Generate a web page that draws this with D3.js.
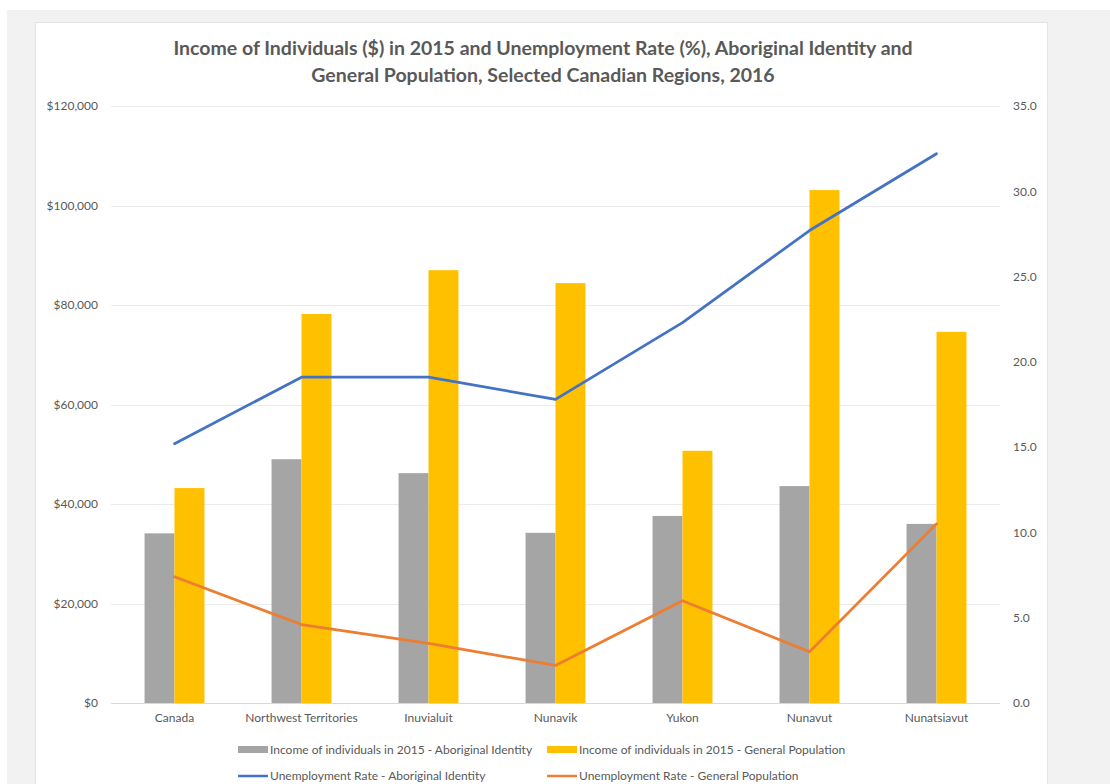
<!DOCTYPE html>
<html>
<head>
<meta charset="utf-8">
<script src="https://cdn.jsdelivr.net/npm/d3@7"></script>
<style>
  html, body { margin: 0; padding: 0; background: #fff; }
  svg { display: block; font-family: Lato, "Open Sans", sans-serif; }
</style>
</head>
<body>
<svg id="chart" width="1110" height="784"></svg>
<script>
// Data
const regions = ['Canada', 'Northwest Territories', 'Inuvialuit', 'Nunavik', 'Yukon', 'Nunavut', 'Nunatsiavut'];
const incomeAboriginal = [34100, 49000, 46200, 34200, 37600, 43600, 36000];
const incomeGeneral = [43200, 78200, 87000, 84400, 50700, 103100, 74600];
const unempAboriginal = [15.2, 19.1, 19.1, 17.8, 22.3, 27.7, 32.2];
const unempGeneral = [7.4, 4.6, 3.5, 2.2, 6.0, 3.0, 10.5];
const incomeTicks = [0, 20000, 40000, 60000, 80000, 100000, 120000];
const rateTicks = [0, 5, 10, 15, 20, 25, 30, 35];

const titleLines = [
  'Income of Individuals ($) in 2015 and Unemployment Rate (%), Aboriginal Identity and',
  'General Population, Selected Canadian Regions, 2016'
];

const series = [
  { key: 'ab', label: 'Income of individuals in 2015 - Aboriginal Identity', color: '#a5a5a5', type: 'bar', values: incomeAboriginal },
  { key: 'gen', label: 'Income of individuals in 2015 - General Population', color: '#ffc000', type: 'bar', values: incomeGeneral },
  { key: 'uab', label: 'Unemployment Rate - Aboriginal Identity', color: '#4472c4', type: 'line', values: unempAboriginal },
  { key: 'ugen', label: 'Unemployment Rate - General Population', color: '#ed7d31', type: 'line', values: unempGeneral }
];

const svg = d3.select('#chart');
const textColor = '#595959';
const labelSize = 12;

// page background and card
svg.append('rect').attr('x', 7).attr('y', 10).attr('width', 1103).attr('height', 774).attr('fill', '#f2f2f2');
svg.append('rect').attr('x', 35.5).attr('y', 22.5).attr('width', 1012).attr('height', 800)
  .attr('fill', '#fff').attr('stroke', '#e4e4e4');

const plot = { left: 111, right: 1000, top: 106, bottom: 703 };

const x = d3.scaleBand().domain(regions).range([plot.left, plot.right]).paddingInner(0).paddingOuter(0);
const xSub = d3.scaleBand().domain(['ab', 'gen']).range([0, x.bandwidth()]).paddingInner(0).paddingOuter(1.12);
const yLeft = d3.scaleLinear().domain([0, 120000]).range([plot.bottom, plot.top]);
const yRight = d3.scaleLinear().domain([0, 35]).range([plot.bottom, plot.top]);

// Title
svg.append('g').selectAll('text')
  .data(titleLines)
  .enter()
  .append('text')
  .attr('x', 543)
  .attr('y', (d, i) => 55 + i * 27)
  .attr('text-anchor', 'middle')
  .attr('font-size', 19.5)
  .attr('font-weight', 700)
  .attr('fill', textColor)
  .text(d => d);

// Gridlines
svg.append('g').selectAll('line')
  .data(incomeTicks)
  .enter()
  .append('line')
  .attr('x1', plot.left).attr('x2', plot.right)
  .attr('y1', d => Math.round(yLeft(d)) + 0.5)
  .attr('y2', d => Math.round(yLeft(d)) + 0.5)
  .attr('stroke', d => d === 0 ? '#d9d9d9' : '#ebebeb')
  .attr('stroke-width', 1);

// Left axis
const leftAxis = svg.append('g')
  .attr('transform', `translate(${plot.left - 13},0)`)
  .call(d3.axisLeft(yLeft).tickValues(incomeTicks).tickSize(0).tickPadding(0)
    .tickFormat(d => '$' + d3.format(',')(d)));
leftAxis.select('.domain').remove();
leftAxis.selectAll('text').attr('fill', textColor).attr('font-size', labelSize).attr('font-family', 'Lato, sans-serif');

// Right axis
const rightAxis = svg.append('g')
  .attr('transform', `translate(${plot.right + 13},0)`)
  .call(d3.axisRight(yRight).tickValues(rateTicks).tickSize(0).tickPadding(0)
    .tickFormat(d3.format('.1f')));
rightAxis.select('.domain').remove();
rightAxis.selectAll('text').attr('fill', textColor).attr('font-size', labelSize).attr('font-family', 'Lato, sans-serif');

// Bottom axis
const bottomAxis = svg.append('g')
  .attr('transform', `translate(0,${plot.bottom})`)
  .call(d3.axisBottom(x).tickSize(0).tickPadding(10));
bottomAxis.select('.domain').remove();
bottomAxis.selectAll('text').attr('fill', textColor).attr('font-size', labelSize).attr('font-family', 'Lato, sans-serif');

// Bars
const barSeries = series.filter(s => s.type === 'bar');
const groups = svg.append('g').selectAll('g')
  .data(regions)
  .enter()
  .append('g')
  .attr('transform', d => `translate(${x(d)},0)`);

groups.selectAll('rect')
  .data((d, i) => barSeries.map(s => ({ key: s.key, color: s.color, value: s.values[i] })))
  .enter()
  .append('rect')
  .attr('x', d => xSub(d.key))
  .attr('width', xSub.bandwidth())
  .attr('y', d => yLeft(d.value))
  .attr('height', d => yLeft(0) - yLeft(d.value))
  .attr('fill', d => d.color);

// Lines
const lineSeries = series.filter(s => s.type === 'line');
const line = d3.line()
  .x((d, i) => x(regions[i]) + x.bandwidth() / 2)
  .y(d => yRight(d));

svg.append('g').selectAll('path')
  .data(lineSeries)
  .enter()
  .append('path')
  .attr('d', d => line(d.values))
  .attr('fill', 'none')
  .attr('stroke', d => d.color)
  .attr('stroke-width', 2.75)
  .attr('stroke-linejoin', 'round')
  .attr('stroke-linecap', 'round');

// Legend
const legendPos = [[238, 750], [547, 750], [238, 776], [547, 776]];
const legend = svg.append('g').selectAll('g')
  .data(series)
  .enter()
  .append('g')
  .attr('transform', (d, i) => `translate(${legendPos[i][0]},${legendPos[i][1]})`);

legend.append('rect')
  .attr('x', 0)
  .attr('y', d => d.type === 'bar' ? -4 : -1.25)
  .attr('width', 30)
  .attr('height', d => d.type === 'bar' ? 7 : 2.5)
  .attr('fill', d => d.color);

legend.append('text')
  .attr('x', 32)
  .attr('y', 0)
  .attr('dy', '0.35em')
  .attr('font-size', labelSize)
  .attr('fill', textColor)
  .text(d => d.label);
</script>
</body>
</html>
